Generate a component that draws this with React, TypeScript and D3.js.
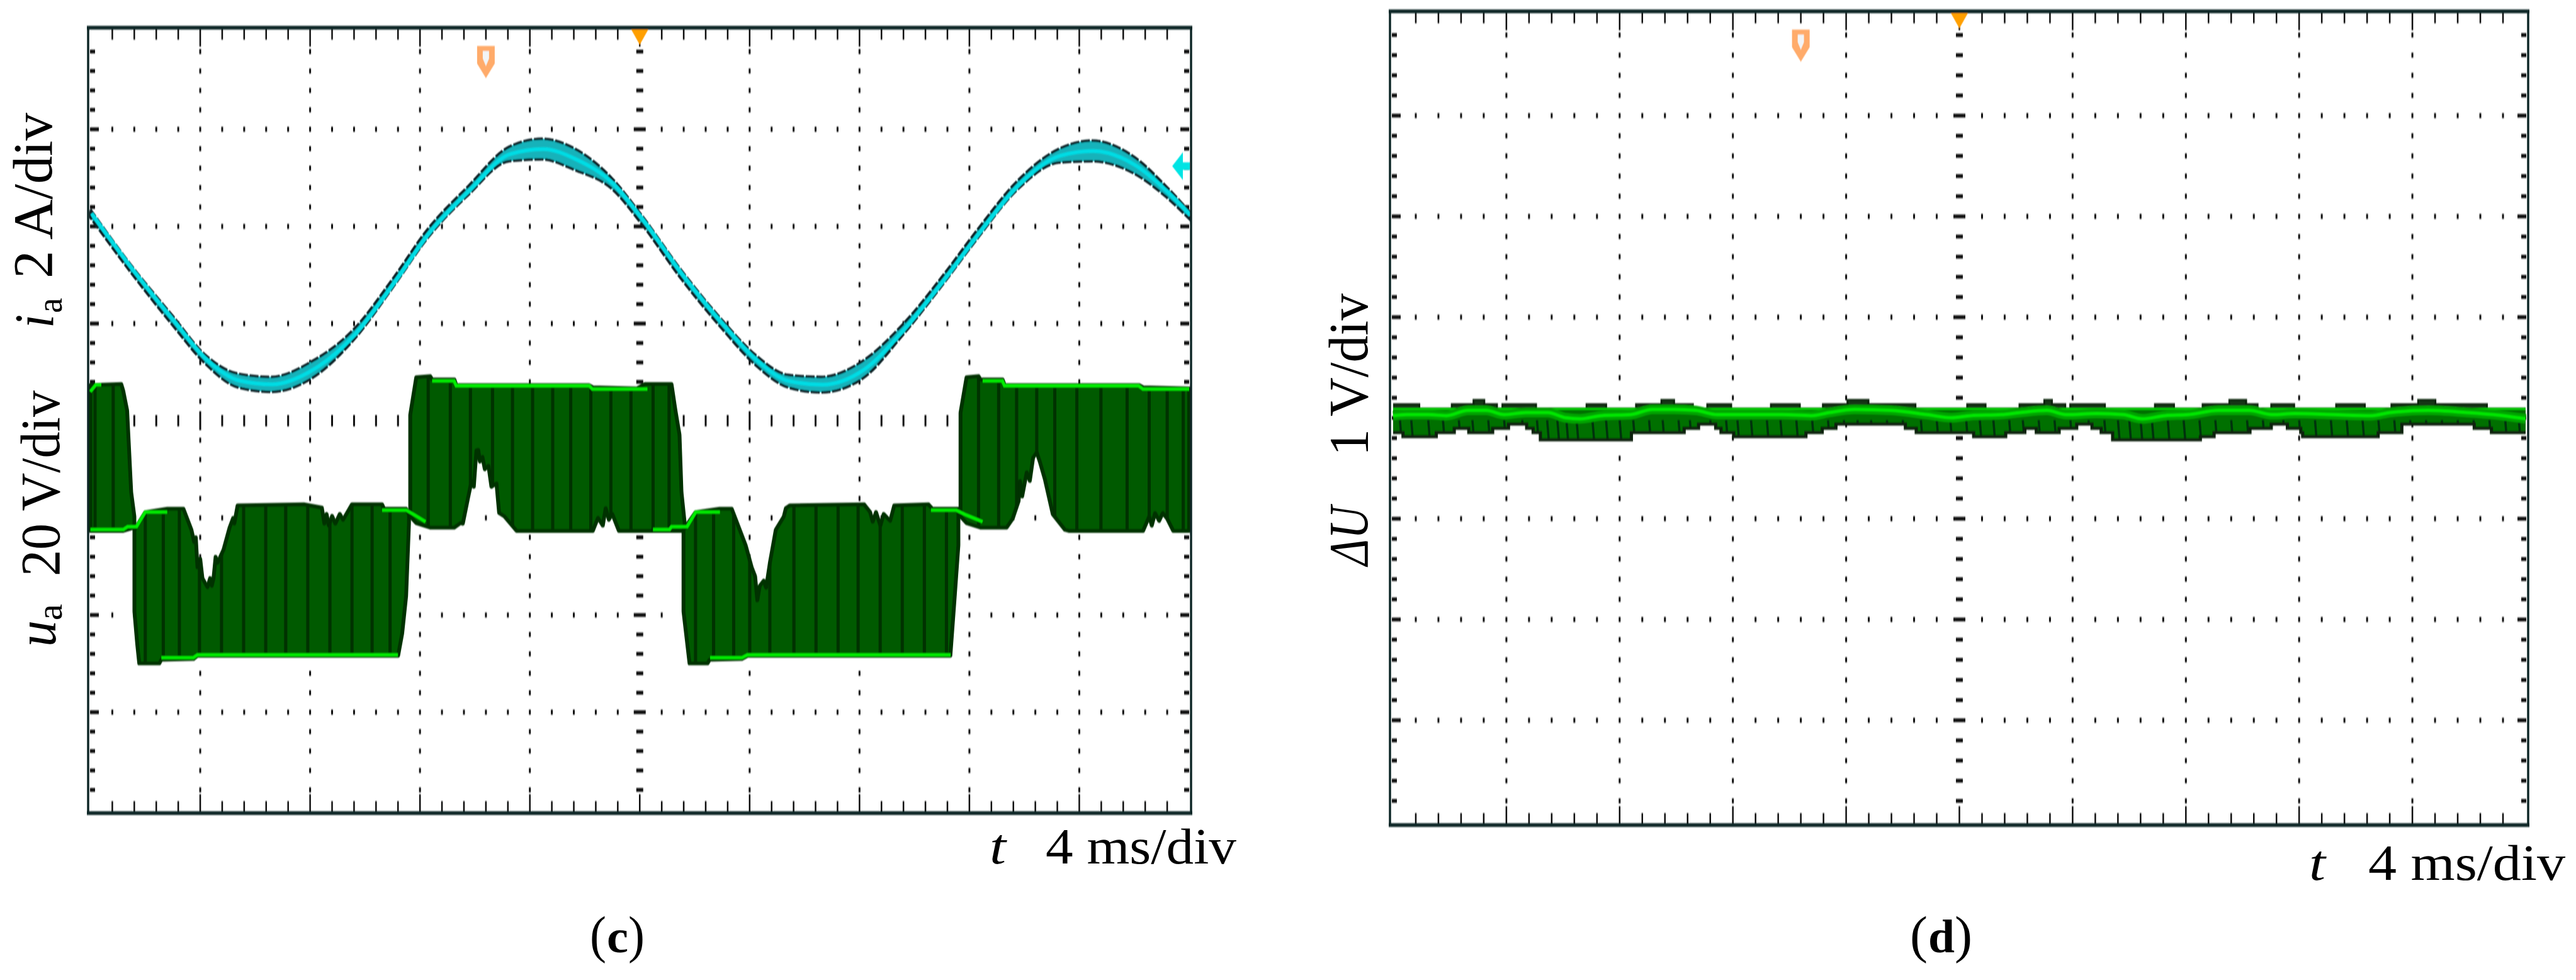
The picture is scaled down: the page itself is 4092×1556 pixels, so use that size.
import { useEffect, useRef } from 'react';
import * as d3 from 'd3';

type Pt = [number, number];

// all traces: t in divisions (0..10), v in divisions from screen centre (+ is up)
const currentTime = [0, 0.374, 0.747, 1.046, 1.345, 1.644, 2.018, 2.391, 2.765, 3.064, 3.438, 3.811, 4.11, 4.409, 4.745, 5.007, 5.381, 5.754, 6.053, 6.352, 6.651, 7.025, 7.399, 7.772, 8.071, 8.445, 8.818, 9.117, 9.491, 9.79, 10];
const currentUpper = [2.175, 1.596, 1.082, 0.677, 0.484, 0.451, 0.612, 0.934, 1.481, 1.963, 2.413, 2.819, 2.902, 2.8, 2.497, 2.13, 1.545, 1.03, 0.677, 0.471, 0.451, 0.612, 0.998, 1.513, 1.963, 2.478, 2.8, 2.883, 2.722, 2.413, 2.156];
const currentLower = [2.092, 1.519, 0.985, 0.587, 0.342, 0.297, 0.439, 0.825, 1.391, 1.873, 2.323, 2.671, 2.69, 2.581, 2.388, 2.04, 1.455, 0.94, 0.574, 0.342, 0.291, 0.432, 0.889, 1.423, 1.873, 2.388, 2.658, 2.671, 2.549, 2.304, 2.079];

const blockATop: Pt[] = [[0, 0.367], [0.281, 0.378], [0.299, 0.31], [0.335, 0.106], [0.372, -0.736], [0.401, -0.986]];
const blockABottom: Pt[] = [[0, -1.134], [0.299, -1.134], [0.401, -1.1]];
const blockBTop: Pt[] = [[0.401, -1.122], [0.5, -0.941], [0.701, -0.906], [0.847, -0.906], [0.92, -1.122], [0.945, -1.25], [0.96, -1.2], [0.975, -1.509], [1.0, -1.42], [1.02, -1.62], [1.066, -1.714], [1.09, -1.62], [1.105, -1.7], [1.121, -1.623], [1.14, -1.4], [1.157, -1.464], [1.212, -1.327], [1.267, -1.1], [1.3, -1.0], [1.31, -1.06], [1.34, -0.872], [1.943, -0.861], [2.107, -0.895], [2.13, -1.06], [2.15, -0.96], [2.17, -1.08], [2.2, -0.98], [2.23, -1.06], [2.27, -0.96], [2.3, -1.02], [2.381, -0.861], [2.655, -0.861], [2.673, -0.906], [2.874, -0.906], [2.9, -0.963]];
const blockBBottom: Pt[] = [[0.401, -1.964], [0.427, -2.305], [0.445, -2.498], [0.628, -2.498], [0.646, -2.46], [0.938, -2.453], [0.975, -2.419], [2.801, -2.419], [2.838, -2.191], [2.874, -1.805], [2.9, -1.054]];
const blockCTop: Pt[] = [[2.911, 0.06], [2.966, 0.447], [3.093, 0.458], [3.112, 0.424], [3.313, 0.424], [3.331, 0.367], [4.536, 0.367], [4.573, 0.344], [4.975, 0.333], [5.048, 0.378], [5.289, 0.378], [5.325, 0.106], [5.362, -0.145], [5.38, -0.736], [5.409, -1.054]];
const blockCBottom: Pt[] = [[2.911, -0.986], [2.966, -1.054], [3.093, -1.1], [3.313, -1.1], [3.368, -1.054], [3.39, -1.06], [3.44, -0.781], [3.47, -0.62], [3.49, -0.68], [3.514, -0.304], [3.53, -0.3], [3.545, -0.42], [3.568, -0.372], [3.59, -0.5], [3.623, -0.463], [3.65, -0.68], [3.696, -0.645], [3.72, -0.95], [3.769, -0.986], [3.879, -1.134], [4.573, -1.134], [4.62, -1.0], [4.664, -1.08], [4.69, -0.9], [4.719, -1.02], [4.75, -0.96], [4.81, -1.134], [5.409, -1.134]];
const blockDTop: Pt[] = [[5.398, -1.122], [5.508, -0.941], [5.727, -0.906], [5.837, -0.906], [5.91, -1.122], [5.964, -1.282], [6.019, -1.509], [6.05, -1.6], [6.07, -1.85], [6.092, -1.7], [6.129, -1.646], [6.15, -1.72], [6.184, -1.464], [6.21, -1.3], [6.238, -1.122], [6.311, -0.986], [6.33, -0.9], [6.366, -0.872], [7.042, -0.861], [7.097, -0.941], [7.12, -1.04], [7.15, -0.94], [7.19, -1.08], [7.22, -0.96], [7.279, -1.031], [7.316, -0.872], [7.627, -0.861], [7.663, -0.906], [7.9, -0.906]];
const blockDBottom: Pt[] = [[5.398, -1.964], [5.453, -2.498], [5.617, -2.498], [5.636, -2.46], [5.928, -2.453], [5.983, -2.419], [7.827, -2.419], [7.864, -1.85], [7.9, -1.282]];
const blockETop: Pt[] = [[7.919, 0.083], [7.974, 0.447], [8.083, 0.458], [8.101, 0.424], [8.302, 0.424], [8.321, 0.367], [9.544, 0.367], [9.581, 0.344], [10, 0.333]];
const blockEBottom: Pt[] = [[7.919, -0.986], [7.974, -1.054], [8.101, -1.1], [8.339, -1.1], [8.394, -1.009], [8.42, -0.92], [8.448, -0.827], [8.46, -0.62], [8.48, -0.78], [8.522, -0.531], [8.55, -0.62], [8.58, -0.38], [8.613, -0.327], [8.64, -0.42], [8.686, -0.599], [8.759, -0.963], [8.869, -1.122], [8.905, -1.134], [9.581, -1.134], [9.636, -0.986], [9.66, -1.08], [9.69, -0.95], [9.727, -1.031], [9.76, -0.95], [9.8, -1.009], [9.855, -1.134], [10, -1.134]];

const pwmStripes = [0.043, 0.208, 0.5, 0.664, 0.81, 0.993, 1.194, 1.395, 1.596, 1.778, 1.979, 2.18, 2.381, 2.564, 2.728, 3.075, 3.276, 3.459, 3.66, 3.842, 4.025, 4.208, 4.372, 4.555, 4.737, 4.92, 5.121, 5.267, 5.508, 5.672, 5.855, 6.001, 6.184, 6.403, 6.604, 6.805, 6.987, 7.188, 7.389, 7.59, 7.791, 8.083, 8.266, 8.43, 8.613, 8.777, 8.978, 9.197, 9.435, 9.636, 9.8, 9.946];

const voltageLevels: Pt[][] = [
  [[0, 0.3], [0.05, 0.37], [0.1, 0.37]],
  [[0, -1.12], [0.3, -1.12], [0.34, -1.09], [0.42, -1.09], [0.5, -0.94], [0.7, -0.94]],
  [[0.646, -2.44], [0.938, -2.44], [0.975, -2.41], [2.8, -2.41]],
  [[2.655, -0.92], [2.874, -0.92], [2.95, -0.97], [3.05, -1.04]],
  [[3.11, 0.41], [3.31, 0.41], [3.33, 0.36], [4.54, 0.36], [4.57, 0.325], [5.07, 0.325]],
  [[5.12, -1.12], [5.27, -1.12], [5.29, -1.09], [5.43, -1.09], [5.51, -0.94], [5.73, -0.94]],
  [[5.64, -2.44], [5.93, -2.44], [5.98, -2.41], [7.83, -2.41]],
  [[7.65, -0.92], [7.88, -0.92], [7.97, -0.97], [8.12, -1.04]],
  [[8.12, 0.41], [8.3, 0.41], [8.32, 0.36], [9.54, 0.36], [9.58, 0.325], [10, 0.325]],
];

// panel (d) envelope, level held until the next knot
const rippleTop: Pt[] = [[0, 0.137], [0.231, 0.095], [0.518, 0.137], [0.71, 0.179], [0.805, 0.137], [0.917, 0.095], [0.965, 0.137], [1.262, 0.095], [1.708, 0.137], [1.881, 0.095], [2.145, 0.137], [2.369, 0.179], [2.481, 0.137], [2.647, 0.095], [2.774, 0.137], [2.985, 0.095], [3.336, 0.137], [3.591, 0.095], [3.795, 0.137], [4.012, 0.179], [4.197, 0.137], [4.612, 0.095], [5.069, 0.137], [5.231, 0.095], [5.531, 0.137], [5.75, 0.179], [5.817, 0.137], [5.935, 0.095], [5.979, 0.137], [6.285, 0.095], [6.727, 0.137], [6.895, 0.095], [7.148, 0.137], [7.384, 0.179], [7.532, 0.137], [7.633, 0.095], [7.754, 0.137], [7.956, 0.095], [8.327, 0.137], [8.58, 0.095], [8.815, 0.137], [9.051, 0.179], [9.203, 0.137], [9.658, 0.095], [10, 0.095]];
const rippleBottom: Pt[] = [[0, -0.144], [0.087, -0.186], [0.381, -0.144], [0.54, -0.102], [0.668, -0.144], [0.879, -0.102], [1.019, -0.061], [1.179, -0.102], [1.236, -0.144], [1.3, -0.217], [2.104, -0.144], [2.57, -0.102], [2.697, -0.061], [2.848, -0.102], [2.895, -0.144], [3.007, -0.186], [3.645, -0.144], [3.789, -0.102], [3.91, -0.061], [4.523, -0.102], [4.619, -0.144], [5.126, -0.186], [5.409, -0.144], [5.578, -0.102], [5.679, -0.144], [5.881, -0.102], [6.036, -0.061], [6.171, -0.102], [6.252, -0.144], [6.353, -0.217], [7.128, -0.186], [7.249, -0.144], [7.566, -0.102], [7.754, -0.061], [7.896, -0.102], [8.014, -0.144], [8.031, -0.186], [8.698, -0.144], [8.907, -0.061], [9.546, -0.102], [9.698, -0.144], [10, -0.144]];
const rippleMean: Pt[] = [[0, 0.023], [0.119, 0.033], [0.311, 0.033], [0.47, 0.023], [0.662, 0.075], [0.821, 0.075], [0.981, 0.033], [1.172, 0.054], [1.364, 0.054], [1.523, 0.002], [1.651, -0.009], [1.842, 0.023], [2.098, 0.033], [2.289, 0.085], [2.481, 0.085], [2.672, 0.075], [2.864, 0.033], [3.119, 0.033], [3.438, 0.033], [3.693, 0.023], [3.853, 0.054], [4.076, 0.085], [4.395, 0.075], [4.714, 0.033], [4.931, 0.002], [5.099, 0.023], [5.369, 0.033], [5.537, 0.054], [5.773, 0.075], [5.942, 0.033], [6.211, 0.044], [6.447, 0.033], [6.615, -0.009], [6.818, 0.023], [7.02, 0.033], [7.289, 0.075], [7.559, 0.075], [7.761, 0.033], [7.963, 0.044], [8.3, 0.033], [8.637, 0.023], [8.805, 0.054], [9.142, 0.075], [9.479, 0.054], [9.715, 0.033], [10, -0.009]];
const rippleStripes = [0.06, 0.16, 0.31, 0.44, 0.58, 0.7, 0.84, 0.98, 1.14, 1.27, 1.36, 1.45, 1.53, 1.62, 1.76, 1.88, 2.0, 2.12, 2.26, 2.38, 2.52, 2.62, 2.8, 2.94, 3.04, 3.16, 3.3, 3.42, 3.56, 3.7, 3.84, 3.98, 4.1, 4.22, 4.36, 4.5, 4.66, 4.8, 4.92, 5.06, 5.18, 5.3, 5.44, 5.56, 5.7, 5.84, 5.98, 6.14, 6.28, 6.4, 6.5, 6.6, 6.7, 6.84, 6.98, 7.12, 7.26, 7.4, 7.54, 7.68, 7.86, 8.0, 8.14, 8.28, 8.42, 8.56, 8.7, 8.84, 8.98, 9.12, 9.26, 9.4, 9.54, 9.68, 9.82, 9.94];

const xDivisions = d3.range(0, 10.01, 0.2);
const yDivisions = d3.range(-4, 4.01, 0.2);

interface Panel {
  left: number; right: number; top: number; bottom: number;
  frameLeft: number; frameRight: number; frameTop: number; frameBottom: number;
  triggerX: number;
}

const panelC: Panel = { left: 143.5, right: 1889, top: 51, bottom: 1285, frameLeft: 140, frameRight: 1892, frameTop: 44, frameBottom: 1291, triggerX: 3.6 };
const panelD: Panel = { left: 2213, right: 4012, top: 23.6, bottom: 1303.6, frameLeft: 2208, frameRight: 4016, frameTop: 18, frameBottom: 1310, triggerX: 3.6 };

const ink = '#0b2626';
const isWhole = (n: number) => Math.abs(n - Math.round(n)) < 0.01;

function drawGraticule(g: any, p: Panel, x: any, y: any) {
  const dot = (cx: number, cy: number, w: number, h: number) =>
    g.append('rect').attr('x', cx - w / 2).attr('y', cy - h / 2).attr('width', w).attr('height', h).attr('fill', '#111');

  // dots on the major lines
  xDivisions.forEach(t => {
    if (t < 0.01 || t > 9.99) return;
    yDivisions.forEach(v => {
      if (v < -3.99 || v > 3.99) return;
      const majorX = isWhole(t);
      const majorY = isWhole(v);
      const centreX = Math.abs(t - 5) < 0.01;
      const centreY = Math.abs(v) < 0.01;
      if (centreY) {
        if (centreX) return;
        dot(x(t), y(v), 3, majorX ? 30 : 18);
      } else if (centreX) {
        dot(x(t), y(v), majorY ? 19 : 11, 6);
      } else if (majorX || majorY) {
        dot(x(t), y(v), 3, 8);
      }
    });
  });
  yDivisions.forEach(v => {
    if (v < -3.99 || v > 3.99) return;
    const w = isWhole(v) ? 14 : 8;
    dot(p.frameLeft + 3 + w / 2, y(v), w, 6);
    dot(p.frameRight - 3 - w / 2, y(v), w, 6);
  });
  // ticks hanging off the top and bottom edges
  xDivisions.forEach(t => {
    if (t < 0.01 || t > 9.99) return;
    const len = isWhole(t) ? 27 : 16;
    g.append('line').attr('x1', x(t)).attr('x2', x(t)).attr('y1', p.frameTop).attr('y2', p.frameTop + 3 + len).attr('stroke', '#111').attr('stroke-width', 2.5);
    g.append('line').attr('x1', x(t)).attr('x2', x(t)).attr('y1', p.frameBottom).attr('y2', p.frameBottom - 3 - len).attr('stroke', '#111').attr('stroke-width', 2.5);
  });
}

function drawFrame(g: any, p: Panel) {
  g.append('line').attr('x1', p.frameLeft).attr('x2', p.frameLeft).attr('y1', p.frameTop).attr('y2', p.frameBottom).attr('stroke', ink).attr('stroke-width', 3.5);
  g.append('line').attr('x1', p.frameRight).attr('x2', p.frameRight).attr('y1', p.frameTop).attr('y2', p.frameBottom).attr('stroke', ink).attr('stroke-width', 3.5);
  g.append('line').attr('x1', p.frameLeft - 2).attr('x2', p.frameRight + 2).attr('y1', p.frameTop).attr('y2', p.frameTop).attr('stroke', ink).attr('stroke-width', 6);
  g.append('line').attr('x1', p.frameLeft - 2).attr('x2', p.frameRight + 2).attr('y1', p.frameBottom).attr('y2', p.frameBottom).attr('stroke', ink).attr('stroke-width', 6);
}

function drawMarkers(g: any, p: Panel, x: any) {
  const cx = x(5);
  const top = p.frameTop + 2;
  g.append('path').attr('d', `M${cx - 14},${top}L${cx + 14},${top}L${cx},${top + 25}Z`).attr('fill', '#ff9f00');
  const mx = x(p.triggerX);
  const my = p.frameTop + 29;
  g.append('path')
    .attr('d', `M${mx - 14},${my}H${mx + 14}V${my + 28}L${mx},${my + 51}L${mx - 14},${my + 28}Z`)
    .attr('fill', '#ffab6b');
  g.append('path')
    .attr('d', `M${mx - 5},${my + 8}H${mx + 5}V${my + 20}L${mx},${my + 32}L${mx - 5},${my + 20}Z`)
    .attr('fill', '#f2f4f6');
}

function drawPanelC(g: any, x: any, y: any) {
  const poly = d3.line<Pt>().x(d => x(d[0])).y(d => y(d[1]));
  const blocks: [Pt[], Pt[]][] = [
    [blockATop, blockABottom],
    [blockBTop, blockBBottom],
    [blockCTop, blockCBottom],
    [blockDTop, blockDBottom],
    [blockETop, blockEBottom],
  ];
  const outline = (top: Pt[], bottom: Pt[]) => poly([...top, ...[...bottom].reverse()]) + 'Z';

  const defs = g.append('defs');
  const clip = defs.append('clipPath').attr('id', 'voltage-clip');
  blocks.forEach(([top, bottom]) => clip.append('path').attr('d', outline(top, bottom)));

  blocks.forEach(([top, bottom]) => {
    g.append('path').attr('d', outline(top, bottom)).attr('fill', '#005a00').attr('stroke', '#033003').attr('stroke-width', 6).attr('stroke-linejoin', 'round');
  });
  g.append('g').attr('clip-path', 'url(#voltage-clip)')
    .selectAll('line').data(pwmStripes).enter().append('line')
    .attr('x1', (d: number) => x(d)).attr('x2', (d: number) => x(d))
    .attr('y1', y(0.6)).attr('y2', y(-2.6))
    .attr('stroke', '#023002').attr('stroke-width', 5);
  voltageLevels.forEach(seg => {
    g.append('path').attr('d', poly(seg)).attr('fill', 'none').attr('stroke', '#00ee00').attr('stroke-width', 5);
  });

  // current trace on top
  const rows = currentTime.map((t, i) => ({ t, hi: currentUpper[i], lo: currentLower[i] }));
  const band = d3.area<any>().curve(d3.curveMonotoneX).x(d => x(d.t)).y0(d => y(d.lo)).y1(d => y(d.hi));
  const mid = d3.line<any>().curve(d3.curveMonotoneX).x(d => x(d.t)).y(d => y((d.hi + d.lo) / 2));
  g.append('path').attr('d', band(rows)).attr('fill', '#12b2ba').attr('stroke', '#0a2226').attr('stroke-width', 4).attr('stroke-dasharray', '14 3');
  g.append('path').attr('d', mid(rows)).attr('fill', 'none').attr('stroke', '#00dce4').attr('stroke-width', 6).attr('transform', 'translate(2,0)');

  // channel ground arrow, right edge
  const ax = x(10) - 27;
  const ay = y(2.62);
  g.append('path')
    .attr('d', `M${ax},${ay}L${ax + 17},${ay - 22}V${ay - 6}H${ax + 28}V${ay + 6}H${ax + 17}V${ay + 22}Z`)
    .attr('fill', '#00e4e4');
}

function drawPanelD(g: any, x: any, y: any) {
  const stepArea = d3.area<any>().curve(d3.curveStepAfter).x(d => x(d[0])).y0(d => y(d[2])).y1(d => y(d[1]));
  const stepLine = d3.line<Pt>().curve(d3.curveStepAfter).x(d => x(d[0])).y(d => y(d[1]));
  const knots = Array.from(new Set([...rippleTop, ...rippleBottom].map(d => d[0]))).sort((a, b) => a - b);
  const levelAt = (s: Pt[], t: number) => s[d3.bisectRight(s.map(d => d[0]), t) - 1][1];
  const rows = knots.map(t => [t, levelAt(rippleTop, t), levelAt(rippleBottom, t)]);

  const defs = g.append('defs');
  defs.append('clipPath').attr('id', 'ripple-clip').append('path').attr('d', stepArea(rows));

  g.append('path').attr('d', stepArea(rows)).attr('fill', '#007000');
  g.append('path').attr('d', stepArea(rows.map(r => [r[0], r[1], 0.095]))).attr('fill', '#133413');
  g.append('g').attr('clip-path', 'url(#ripple-clip)')
    .selectAll('line').data(rippleStripes).enter().append('line')
    .attr('x1', (d: number) => x(d)).attr('x2', (d: number) => x(d) + 3)
    .attr('y1', y(-0.02)).attr('y2', y(-0.25))
    .attr('stroke', '#06300a').attr('stroke-width', 3.5);
  g.append('path').attr('d', stepLine(rippleBottom)).attr('fill', 'none').attr('stroke', '#0c240c').attr('stroke-width', 5);
  g.append('path').attr('d', stepLine(rippleTop)).attr('fill', 'none').attr('stroke', '#0c240c').attr('stroke-width', 3);

  const mean = d3.line<Pt>().curve(d3.curveMonotoneX).x(d => x(d[0])).y(d => y(d[1]));
  // flat bright strip the fast trace leaves behind the mean
  g.append('line').attr('x1', x(0)).attr('x2', x(10)).attr('y1', y(0.09)).attr('y2', y(0.09)).attr('stroke', '#00d800').attr('stroke-width', 3);
  g.append('path').attr('d', mean(rippleMean)).attr('fill', 'none').attr('stroke', '#00a400').attr('stroke-width', 15);
  g.append('path').attr('d', mean(rippleMean)).attr('fill', 'none').attr('stroke', '#00e800').attr('stroke-width', 5);
}

function vText(g: any, x: number, y: number, txt: string, size: number, len: number, italic = false) {
  g.append('text')
    .attr('transform', `translate(${x},${y}) rotate(-90)`)
    .attr('font-family', '"Liberation Serif", serif')
    .attr('font-size', size)
    .attr('font-style', italic ? 'italic' : 'normal')
    .attr('textLength', len)
    .attr('lengthAdjust', 'spacingAndGlyphs')
    .attr('fill', '#000')
    .text(txt);
}

function hText(g: any, x: number, y: number, txt: string, size: number, len: number, style: any = {}) {
  g.append('text')
    .attr('x', x)
    .attr('y', y)
    .attr('font-family', '"Liberation Serif", serif')
    .attr('font-size', size)
    .attr('font-style', style.italic ? 'italic' : 'normal')
    .attr('font-weight', style.bold ? 'bold' : 'normal')
    .attr('textLength', len)
    .attr('lengthAdjust', 'spacingAndGlyphs')
    .attr('fill', '#000')
    .text(txt);
}

export default function App() {
  const ref = useRef<SVGSVGElement>(null);

  useEffect(() => {
    if (!ref.current) return;
    const svg = d3.select(ref.current);
    svg.selectAll('*').remove();

    svg.append('defs').append('filter').attr('id', 'soft').attr('x', '-2%').attr('y', '-2%').attr('width', '104%').attr('height', '104%')
      .append('feGaussianBlur').attr('stdDeviation', '0.7 1.2');

    [panelC, panelD].forEach((p, i) => {
      const x = d3.scaleLinear().domain([0, 10]).range([p.left, p.right]);
      const y = d3.scaleLinear().domain([4, -4]).range([p.top, p.bottom]);
      const g = svg.append('g').attr('filter', 'url(#soft)');
      drawGraticule(g, p, x, y);
      if (i === 0) drawPanelC(g, x, y);
      else drawPanelD(g, x, y);
      drawMarkers(g, p, x);
      drawFrame(g, p);
    });

    const t = svg.append('g');
    // (c) labels
    vText(t, 84, 521, 'i', 88, 22, true);
    vText(t, 98, 497, 'a', 56, 24);
    vText(t, 82, 442, '2 A/div', 88, 263);
    vText(t, 88, 1027, 'u', 88, 42, true);
    vText(t, 98, 985, 'a', 56, 26);
    vText(t, 94, 915, '20 V/div', 88, 295);
    hText(t, 1572, 1371, 't', 80, 26, { italic: true });
    hText(t, 1661, 1371, '4 ms/div', 80, 303);
    hText(t, 937, 1512, '(', 82, 26);
    hText(t, 964, 1512, 'c', 74, 34, { bold: true });
    hText(t, 998, 1512, ')', 82, 26);
    // (d) labels
    vText(t, 2172, 898, 'ΔU', 88, 94, true);
    vText(t, 2172, 724, '1 V/div', 88, 258);
    hText(t, 3668, 1397, 't', 80, 26, { italic: true });
    hText(t, 3762, 1397, '4 ms/div', 80, 313);
    hText(t, 3034, 1512, '(', 82, 28);
    hText(t, 3063, 1512, 'd', 74, 42, { bold: true });
    hText(t, 3105, 1512, ')', 82, 28);
  }, []);

  return (
    <svg
      ref={ref}
      width={4092}
      height={1556}
      viewBox="0 0 4092 1556"
      style={{ position: 'absolute', left: 0, top: 0, background: '#fff' }}
    />
  );
}
